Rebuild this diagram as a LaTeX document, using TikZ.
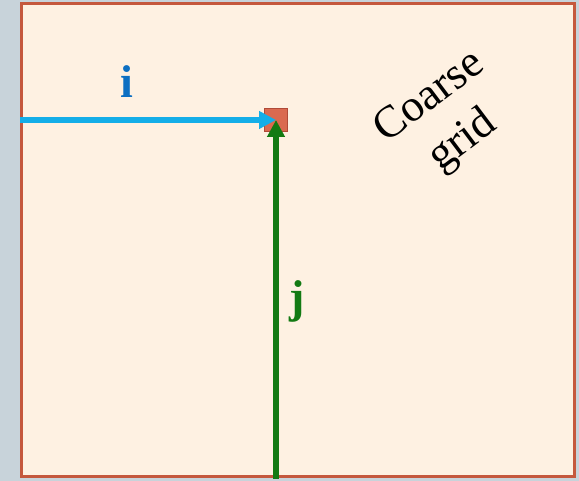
\documentclass[tikz,border=0pt]{standalone}
\usepackage{fontspec}
\setmainfont{Liberation Serif}
\usetikzlibrary{arrows.meta}
\definecolor{outbg}{HTML}{C8D3DA}
\definecolor{panel}{HTML}{FEF1E2}
\definecolor{panelborder}{HTML}{C5583D}
\definecolor{iblue}{HTML}{14AEE8}
\definecolor{itext}{HTML}{0D6FC2}
\definecolor{jgreen}{HTML}{137A13}
\definecolor{sqfill}{HTML}{DA6A50}
\definecolor{sqdraw}{HTML}{B04A38}
\tikzset{
  vecline/.style={line width=5.5pt, -{Triangle[length=17pt,width=17pt]}},
  labeltext/.style={font=\fontsize{46}{52}\selectfont\bfseries, anchor=base, inner sep=0pt},
}
\begin{document}
\begin{tikzpicture}[x=1pt,y=1pt]
\useasboundingbox (0,0) rectangle (579,481);
\fill[outbg] (0,0) rectangle (579,481);
\node[draw=panelborder, line width=3pt, fill=panel, inner sep=0pt, anchor=south west,
      minimum width=553pt, minimum height=473pt] (panel) at (19.5,3) {};
\node[draw=sqdraw, line width=1pt, fill=sqfill, minimum size=23pt, inner sep=0pt] (pt) at (276,361) {};
\coordinate (ileft) at (20,361);
\coordinate (jbot) at (276,2);
\draw[vecline, iblue] (ileft) -- (pt.center);
\draw[vecline, jgreen] (jbot) -- (pt.center);
\node[labeltext, text=itext] (ilab) at (127,383) {i};
\node[labeltext, text=jgreen] (jlab) at (297,168) {j};
\node[font=\fontsize{45}{55}\selectfont, align=center, rotate=37, inner sep=0pt] (cg) at (447,361) {Coarse\\grid};
\end{tikzpicture}
\end{document}
